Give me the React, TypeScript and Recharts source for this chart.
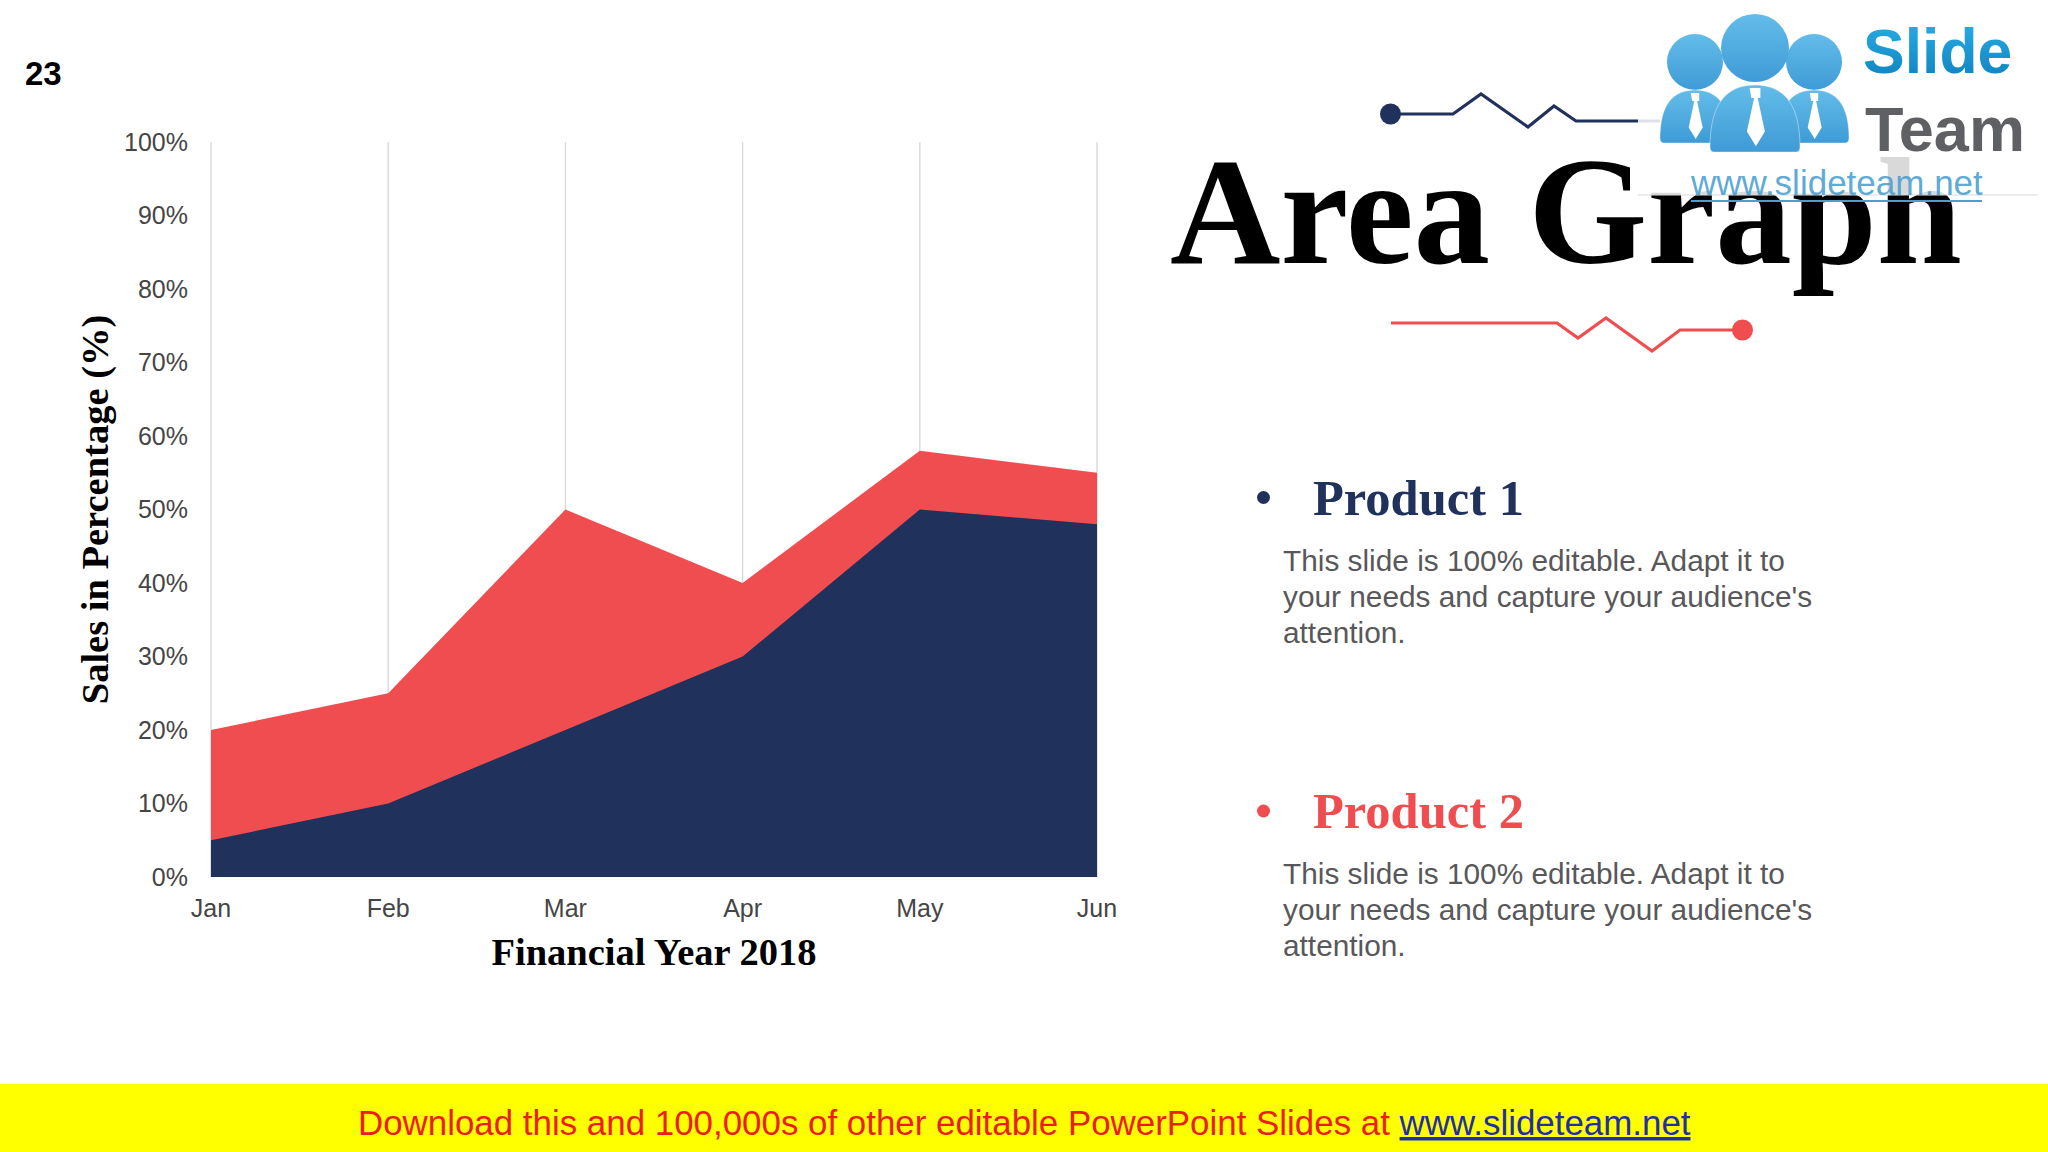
import { AreaChart, Area, XAxis, YAxis, CartesianGrid, Label } from "recharts";

const months = ["Jan", "Feb", "Mar", "Apr", "May", "Jun"];
const product1 = [5, 10, 20, 30, 50, 48];
const product2 = [20, 25, 50, 40, 58, 55];
const yTicks = [0, 10, 20, 30, 40, 50, 60, 70, 80, 90, 100];
const bodyLines = [
  "This slide is 100% editable. Adapt it to",
  "your needs and capture your audience's",
  "attention.",
];

const data = months.map((m, i) => ({ month: m, product1: product1[i], product2: product2[i] }));

const NAVY = "#20315B";
const RED = "#F04D50";
const SANS = "'Liberation Sans', Arial, sans-serif";
const SERIF = "'Liberation Serif', 'Times New Roman', serif";

function ProductBlock({ name, color, baseline }: { name: string; color: string; baseline: number }) {
  return (
    <g>
      <circle cx={1263.5} cy={baseline - 17} r={6.5} fill={color} />
      <text x={1313} y={baseline} fontFamily={SERIF} fontWeight={700} fontSize={50.5} fill={color}>{name}</text>
      {bodyLines.map((line, i) => (
        <text key={i} x={1283} y={baseline + 56 + i * 36} fontFamily={SANS} fontSize={29.8} fill="#58585A">{line}</text>
      ))}
    </g>
  );
}

function Person({ cx, headY, r, top, bottom, half }: { cx: number; headY: number; r: number; top: number; bottom: number; half: number }) {
  const h = bottom - top;
  const tie = half * 0.2;
  return (
    <g>
      <ellipse cx={cx} cy={headY} rx={r} ry={r} fill="url(#logoBlue)" />
      <path
        d={`M${cx - half + 4} ${bottom} Q${cx - half} ${bottom} ${cx - half} ${bottom - 5} C${cx - half} ${top + h * 0.25} ${cx - half * 0.6} ${top} ${cx} ${top} C${cx + half * 0.6} ${top} ${cx + half} ${top + h * 0.25} ${cx + half} ${bottom - 5} Q${cx + half} ${bottom} ${cx + half - 4} ${bottom} Z`}
        fill="url(#logoBlue)"
        stroke="#fff"
        strokeOpacity={0.4}
      />
      <path
        d={`M${cx - tie * 0.6} ${top + 3} h${tie * 1.2} v${h * 0.15} h${-tie * 0.3} l${tie * 0.8} ${h * 0.5} l${-tie} ${h * 0.22} l${-tie} ${-h * 0.22} l${tie * 0.8} ${-h * 0.5} h${-tie * 0.3} Z`}
        fill="#fff"
      />
    </g>
  );
}

function Decor() {
  return (
    <svg width={2048} height={1152} style={{ position: "absolute", left: 0, top: 0 }}>
      <defs>
        <linearGradient id="logoBlue" x1="0" y1="0" x2="0" y2="1">
          <stop offset="0%" stopColor="#63BCE9" />
          <stop offset="100%" stopColor="#3F9BD6" />
        </linearGradient>
        <linearGradient id="logoSlide" x1="0" y1="0" x2="0" y2="1">
          <stop offset="0%" stopColor="#2BB0E6" />
          <stop offset="100%" stopColor="#0C7FBE" />
        </linearGradient>
      </defs>

      <text x={25} y={85} fontFamily={SANS} fontWeight={700} fontSize={33} fill="#000">23</text>

      <polyline points="1390,114 1453,114 1481,94 1528,127 1554,106 1576,121 1660,121" fill="none" stroke={NAVY} strokeWidth={3.2} />
      <circle cx={1390.5} cy={114} r={10.5} fill={NAVY} />

      <text x={1170} y={263} fontFamily={SERIF} fontWeight={700} fontSize={153} fill="#000">Area Graph</text>

      <polyline points="1391,323 1557,323 1578,338 1606,318 1652,351 1680,330 1742,330" fill="none" stroke={RED} strokeWidth={3.2} />
      <circle cx={1742.5} cy={330} r={10.5} fill={RED} />

      <rect x={1638} y={0} width={400} height={195} fill="#fff" fillOpacity={0.85} />
      <line x1={1638} y1={195} x2={2038} y2={195} stroke="#D9D9D9" strokeWidth={1.2} />
      <Person cx={1695} headY={62} r={28} top={90} bottom={143} half={35} />
      <Person cx={1814} headY={62} r={28} top={90} bottom={143} half={35} />
      <Person cx={1755} headY={48} r={34} top={85} bottom={152} half={45} />
      <text x={1863} y={73} fontFamily={SANS} fontWeight={700} fontSize={62.5} fill="url(#logoSlide)">Slide</text>
      <text x={1865} y={151} fontFamily={SANS} fontWeight={700} fontSize={63} fill="#5E6063">Team</text>
      <text x={1691} y={195} fontFamily={SANS} fontSize={35} fill="#4A9FD0" fillOpacity={0.9}>www.slideteam.net</text>
      <line x1={1691} y1={201} x2={1982} y2={201} stroke="#4A9FD0" strokeWidth={2} />

      <ProductBlock name="Product 1" color={NAVY} baseline={514.5} />
      <ProductBlock name="Product 2" color={RED} baseline={828} />

      <rect x={0} y={1084} width={2048} height={68} fill="#FFFF00" />
      <text x={358} y={1135} fontFamily={SANS} fontSize={34.9} fill="#EE1C1C">
        Download this and 100,000s of other editable PowerPoint Slides at{" "}
        <tspan fill="#1F2FA8" textDecoration="underline">www.slideteam.net</tspan>
      </text>
    </svg>
  );
}

export default function App() {
  return (
    <div style={{ position: "absolute", left: 0, top: 0, width: 2048, height: 1152, background: "#fff", overflow: "hidden" }}>
      <div style={{ position: "absolute", left: 0, top: 0 }}>
        <AreaChart width={1180} height={1152} data={data} margin={{ top: 142, right: 83, left: 0, bottom: 0 }}>
          <CartesianGrid horizontal={false} stroke="#D9D9D9" strokeWidth={1.4} />
          <XAxis
            dataKey="month"
            height={275}
            interval={0}
            axisLine={false}
            tickLine={false}
            tickSize={0}
            tickMargin={22}
            tick={{ fill: "#454545", fontSize: 25, fontFamily: SANS }}
          >
            <Label value="Financial Year 2018" position="center" dy={-63} fill="#000" style={{ fontFamily: SERIF, fontWeight: 700, fontSize: 38.5 }} />
          </XAxis>
          <YAxis
            width={211}
            domain={[0, 100]}
            ticks={yTicks}
            interval={0}
            tickFormatter={(v: number) => `${v}%`}
            axisLine={false}
            tickLine={false}
            tickSize={0}
            tickMargin={23}
            tick={{ fill: "#454545", fontSize: 25, fontFamily: SANS }}
          >
            <Label value="Sales in Percentage (%)" angle={-90} position="center" dx={-11} fill="#000" style={{ fontFamily: SERIF, fontWeight: 700, fontSize: 38.5 }} />
          </YAxis>
          <Area type="linear" dataKey="product2" name="Product 2" stroke="none" fill={RED} fillOpacity={1} isAnimationActive={false} dot={false} />
          <Area type="linear" dataKey="product1" name="Product 1" stroke="none" fill={NAVY} fillOpacity={1} isAnimationActive={false} dot={false} />
        </AreaChart>
      </div>
      <Decor />
    </div>
  );
}
